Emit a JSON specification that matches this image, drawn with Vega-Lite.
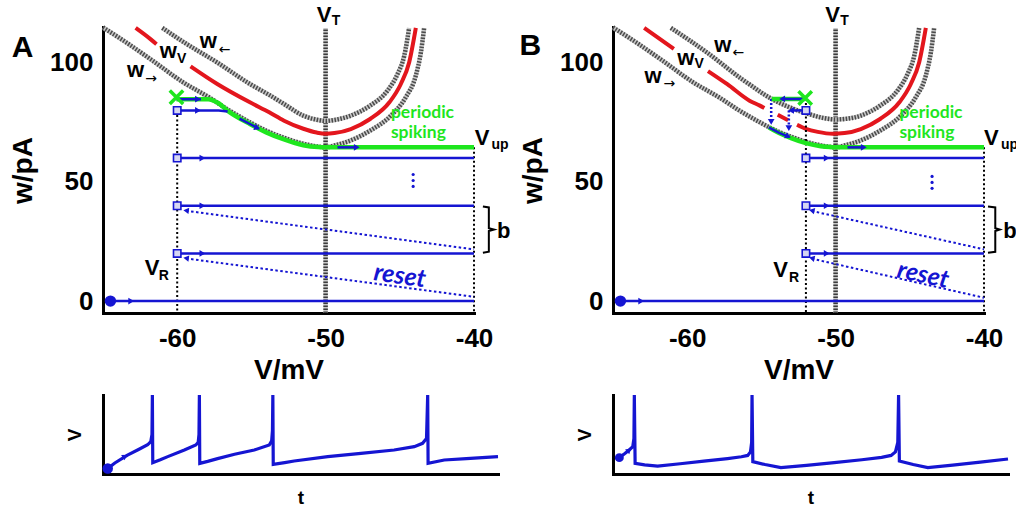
{
"$schema": "https://vega.github.io/schema/vega-lite/v6.json",
"background": "white",
"padding": {"left": 9, "top": 3, "right": 0, "bottom": 0},
"columns": 2,
"spacing": {"row": 82, "column": 115},
"bounds": "flush",
"config": {
  "view": {"stroke": null},
  "axis": {"grid": false, "ticks": false, "domainColor": "black", "domainWidth": 3, "domainCap": "square", "labelFlush": false, "labelFont": "Liberation Sans", "labelFontWeight": "bold", "labelFontSize": 26, "labelColor": "black", "titleFont": "Liberation Sans", "titleFontWeight": "bold", "titleFontSize": 28, "titleColor": "black"},
  "text": {"font": "Liberation Sans", "fontWeight": "bold", "color": "black"}
},
"datasets": {
  "cur": [
    {"p":"AB","c":"lo","s":0,"V":-65,"w":114.8},{"p":"AB","c":"lo","s":0,"V":-63.5,"w":108.8},{"p":"AB","c":"lo","s":0,"V":-61.8,"w":101.5},{"p":"AB","c":"lo","s":0,"V":-59.6,"w":91.8},{"p":"AB","c":"lo","s":0,"V":-57.8,"w":85.3},{"p":"AB","c":"lo","s":0,"V":-56.5,"w":80},{"p":"AB","c":"lo","s":0,"V":-55.1,"w":75},{"p":"AB","c":"lo","s":0,"V":-54,"w":71.5},{"p":"AB","c":"lo","s":0,"V":-52.8,"w":68.5},{"p":"AB","c":"lo","s":0,"V":-51.5,"w":66},{"p":"AB","c":"lo","s":0,"V":-50.5,"w":64.8},{"p":"AB","c":"lo","s":0,"V":-50,"w":64.5},{"p":"AB","c":"lo","s":0,"V":-49.4,"w":65.3},{"p":"AB","c":"lo","s":0,"V":-48.3,"w":67.4},{"p":"AB","c":"lo","s":0,"V":-47,"w":71.5},{"p":"AB","c":"lo","s":0,"V":-45.6,"w":77.8},{"p":"AB","c":"lo","s":0,"V":-44.6,"w":85.5},{"p":"AB","c":"lo","s":0,"V":-43.92,"w":94.6},{"p":"AB","c":"lo","s":0,"V":-43.58,"w":104.3},{"p":"AB","c":"lo","s":0,"V":-43.36,"w":114.6},
    {"p":"A","c":"hi","s":0,"V":-61,"w":114.6},{"p":"A","c":"hi","s":0,"V":-59.5,"w":108.4},{"p":"A","c":"hi","s":0,"V":-57.3,"w":100.1},{"p":"A","c":"hi","s":0,"V":-55.1,"w":91.1},{"p":"A","c":"hi","s":0,"V":-53.8,"w":86.5},{"p":"A","c":"hi","s":0,"V":-52.8,"w":82.7},{"p":"A","c":"hi","s":0,"V":-51.5,"w":77.8},{"p":"A","c":"hi","s":0,"V":-50.6,"w":76.1},{"p":"A","c":"hi","s":0,"V":-50,"w":75.6},{"p":"A","c":"hi","s":0,"V":-49.4,"w":76},{"p":"A","c":"hi","s":0,"V":-48.3,"w":77.8},{"p":"A","c":"hi","s":0,"V":-47,"w":82},{"p":"A","c":"hi","s":0,"V":-45.83,"w":88.3},{"p":"A","c":"hi","s":0,"V":-45.15,"w":95.3},{"p":"A","c":"hi","s":0,"V":-44.7,"w":102.9},{"p":"A","c":"hi","s":0,"V":-44.37,"w":114.6},
    {"p":"B","c":"hi","s":0,"V":-61.1,"w":114.6},{"p":"B","c":"hi","s":0,"V":-58.6,"w":104},{"p":"B","c":"hi","s":0,"V":-56.4,"w":93.5},{"p":"B","c":"hi","s":0,"V":-55.8,"w":90.9},{"p":"B","c":"hi","s":0,"V":-54.5,"w":85.5},{"p":"B","c":"hi","s":0,"V":-53.1,"w":81.3},{"p":"B","c":"hi","s":0,"V":-51.8,"w":78.5},{"p":"B","c":"hi","s":0,"V":-50.8,"w":76.8},{"p":"B","c":"hi","s":0,"V":-50,"w":76.2},{"p":"B","c":"hi","s":0,"V":-49.4,"w":76.4},{"p":"B","c":"hi","s":0,"V":-48.3,"w":77.8},{"p":"B","c":"hi","s":0,"V":-47,"w":82},{"p":"B","c":"hi","s":0,"V":-45.83,"w":88.3},{"p":"B","c":"hi","s":0,"V":-45.15,"w":95.3},{"p":"B","c":"hi","s":0,"V":-44.7,"w":102.9},{"p":"B","c":"hi","s":0,"V":-44.37,"w":114.6},
    {"p":"A","c":"red","s":1,"V":-62.8,"w":114.6},{"p":"A","c":"red","s":1,"V":-61.8,"w":109.9},{"p":"A","c":"red","s":1,"V":-61.4,"w":107.8},
    {"p":"A","c":"red","s":2,"V":-59.1,"w":98.5},{"p":"A","c":"red","s":2,"V":-57.3,"w":91.1},{"p":"A","c":"red","s":2,"V":-55.1,"w":83.4},{"p":"A","c":"red","s":2,"V":-53.8,"w":79.2},{"p":"A","c":"red","s":2,"V":-52.8,"w":75.7},{"p":"A","c":"red","s":2,"V":-51.5,"w":72.3},{"p":"A","c":"red","s":2,"V":-50.6,"w":70.7},{"p":"A","c":"red","s":2,"V":-50,"w":70.2},{"p":"A","c":"red","s":2,"V":-49.4,"w":70.5},{"p":"A","c":"red","s":2,"V":-48.3,"w":72.2},{"p":"A","c":"red","s":2,"V":-47,"w":76.4},{"p":"A","c":"red","s":2,"V":-45.7,"w":83.4},{"p":"A","c":"red","s":2,"V":-44.93,"w":91.1},{"p":"A","c":"red","s":2,"V":-44.37,"w":100.1},{"p":"A","c":"red","s":2,"V":-43.92,"w":114.6},
    {"p":"B","c":"red","s":1,"V":-62.9,"w":114.6},{"p":"B","c":"red","s":1,"V":-61.9,"w":110.2},{"p":"B","c":"red","s":1,"V":-60.9,"w":105.8},
    {"p":"B","c":"red","s":2,"V":-58.6,"w":96.5},{"p":"B","c":"red","s":2,"V":-57.3,"w":91},{"p":"B","c":"red","s":2,"V":-55.8,"w":84.1},{"p":"B","c":"red","s":2,"V":-55.1,"w":82},{"p":"B","c":"red","s":2,"V":-54.8,"w":81},
    {"p":"B","c":"red","s":3,"V":-53.9,"w":78.2},{"p":"B","c":"red","s":3,"V":-53.2,"w":75.9},
    {"p":"B","c":"red","s":4,"V":-52.6,"w":74},{"p":"B","c":"red","s":4,"V":-52,"w":72.3},{"p":"B","c":"red","s":4,"V":-51.2,"w":71},{"p":"B","c":"red","s":4,"V":-50.2,"w":70.2},{"p":"B","c":"red","s":4,"V":-49.4,"w":70.5},{"p":"B","c":"red","s":4,"V":-48.3,"w":72.2},{"p":"B","c":"red","s":4,"V":-47,"w":76.4},{"p":"B","c":"red","s":4,"V":-45.7,"w":83.4},{"p":"B","c":"red","s":4,"V":-44.93,"w":91.1},{"p":"B","c":"red","s":4,"V":-44.37,"w":100.1},{"p":"B","c":"red","s":4,"V":-43.92,"w":114.6}
  ],
  "vt": [{"p":"AB","V":-50,"w":-5},{"p":"AB","V":-50,"w":114.6}],
  "vd": [
    {"p":"A","id":1,"V":-60,"w":80},{"p":"A","id":1,"V":-60,"w":-5},
    {"p":"B","id":1,"V":-52,"w":85},{"p":"B","id":1,"V":-52,"w":-5},
    {"p":"AB","id":2,"V":-40,"w":64.5},{"p":"AB","id":2,"V":-40,"w":-5}
  ],
  "rs": [
    {"p":"A","id":1,"V":-40,"w":1.8},{"p":"A","id":1,"V":-59.4,"w":17.9},
    {"p":"A","id":2,"V":-40,"w":21.7},{"p":"A","id":2,"V":-59.4,"w":37.9},
    {"p":"B","id":1,"V":-40,"w":1.4},{"p":"B","id":1,"V":-51.6,"w":17.8},
    {"p":"B","id":2,"V":-40,"w":21.7},{"p":"B","id":2,"V":-51.6,"w":37.8}
  ],
  "dp": [
    {"p":"B","id":1,"V":-54.34,"w":84.8},{"p":"B","id":1,"V":-54.34,"w":75.5},
    {"p":"B","id":2,"V":-53.15,"w":80},{"p":"B","id":2,"V":-53.15,"w":73}
  ],
  "gr": [
    {"p":"A","id":1,"V":-60.05,"w":84.7},{"p":"A","id":1,"V":-57.9,"w":84.7},{"p":"A","id":1,"V":-57.3,"w":83.3},{"p":"A","id":1,"V":-56.5,"w":79.4},{"p":"A","id":1,"V":-55.1,"w":74.3},{"p":"A","id":1,"V":-54,"w":70.8},{"p":"A","id":1,"V":-52.8,"w":67.8},{"p":"A","id":1,"V":-51.5,"w":65.4},{"p":"A","id":1,"V":-50.5,"w":64.6},{"p":"A","id":1,"V":-50,"w":64.5},{"p":"A","id":1,"V":-40,"w":64.5},
    {"p":"B","id":1,"V":-54.3,"w":84.8},{"p":"B","id":1,"V":-52.05,"w":84.8},
    {"p":"B","id":2,"V":-54.5,"w":72.9},{"p":"B","id":2,"V":-54,"w":71.1},{"p":"B","id":2,"V":-53,"w":68.4},{"p":"B","id":2,"V":-52,"w":66.3},{"p":"B","id":2,"V":-51,"w":65},{"p":"B","id":2,"V":-50.3,"w":64.6},{"p":"B","id":2,"V":-50,"w":64.5},{"p":"B","id":2,"V":-40,"w":64.5}
  ],
  "bl": [
    {"p":"AB","id":0,"V":-64.5,"w":0},{"p":"AB","id":0,"V":-40,"w":0},
    {"p":"A","id":1,"V":-60,"w":20},{"p":"A","id":1,"V":-40,"w":20},
    {"p":"A","id":2,"V":-60,"w":40},{"p":"A","id":2,"V":-40,"w":40},
    {"p":"A","id":3,"V":-60,"w":60},{"p":"A","id":3,"V":-40,"w":60},
    {"p":"A","id":4,"V":-60,"w":80},{"p":"A","id":4,"V":-57.2,"w":80},{"p":"A","id":4,"V":-56.6,"w":79.5},
    {"p":"A","id":5,"V":-60.05,"w":84.7},{"p":"A","id":5,"V":-58.4,"w":84.7},
    {"p":"A","id":6,"V":-55.8,"w":76.6},{"p":"A","id":6,"V":-55.1,"w":74.3},{"p":"A","id":6,"V":-54.5,"w":72.4},
    {"p":"A","id":7,"V":-49.2,"w":64.5},{"p":"A","id":7,"V":-47.9,"w":64.5},
    {"p":"B","id":1,"V":-52,"w":20},{"p":"B","id":1,"V":-40,"w":20},
    {"p":"B","id":2,"V":-52,"w":40},{"p":"B","id":2,"V":-40,"w":40},
    {"p":"B","id":3,"V":-52,"w":60},{"p":"B","id":3,"V":-40,"w":60},
    {"p":"B","id":4,"V":-52,"w":80},{"p":"B","id":4,"V":-52.95,"w":80},
    {"p":"B","id":5,"V":-52.2,"w":84.8},{"p":"B","id":5,"V":-53.5,"w":84.8},
    {"p":"B","id":6,"V":-54.5,"w":72.9},{"p":"B","id":6,"V":-53.8,"w":70.6},{"p":"B","id":6,"V":-53.1,"w":68.8},
    {"p":"B","id":7,"V":-49.2,"w":64.5},{"p":"B","id":7,"V":-48.1,"w":64.5}
  ],
  "ar": [
    {"p":"A","V":-58.6,"w":84.7},{"p":"A","V":-58.6,"w":80},{"p":"A","V":-58.3,"w":60},{"p":"A","V":-58.3,"w":40},{"p":"A","V":-58.3,"w":20},{"p":"AB","V":-63.1,"w":0},{"p":"A","V":-47.9,"w":64.5},
    {"p":"B","V":-50.6,"w":60},{"p":"B","V":-50.6,"w":40},{"p":"B","V":-50.6,"w":20},{"p":"B","V":-48.1,"w":64.5}
  ],
  "al": [{"p":"B","V":-53.6,"w":84.8},{"p":"B","V":-53.0,"w":80}],
  "ad": [{"p":"B","V":-54.34,"w":75.2},{"p":"B","V":-53.15,"w":72.6}],
  "arr": [{"p":"A","V":-59.4,"w":18},{"p":"A","V":-59.4,"w":38},{"p":"B","V":-51.6,"w":18},{"p":"B","V":-51.6,"w":38}],
  "ac": [{"p":"A","V":-54.6,"w":72.6},{"p":"B","V":-53.2,"w":69.1}],
  "sq": [
    {"p":"A","V":-60,"w":20},{"p":"A","V":-60,"w":40},{"p":"A","V":-60,"w":60},{"p":"A","V":-60,"w":80},
    {"p":"B","V":-52,"w":20},{"p":"B","V":-52,"w":40},{"p":"B","V":-52,"w":60},{"p":"B","V":-52,"w":80}
  ],
  "xm": [{"p":"A","V":-60.05,"w":85.5},{"p":"B","V":-52.05,"w":85.2}],
  "sd": [{"p":"AB","V":-64.5,"w":0}],
  "vdt": [
    {"p":"A","V":-44.1,"w":53.1},{"p":"A","V":-44.1,"w":50.6},{"p":"A","V":-44.1,"w":48.1},
    {"p":"B","V":-43.5,"w":52.3},{"p":"B","V":-43.5,"w":49.8},{"p":"B","V":-43.5,"w":47.3}
  ],
  "br": [
    {"p":"A","i":1,"V":-39.4,"w":39.7},{"p":"A","i":2,"V":-39.0,"w":39.3},{"p":"A","i":3,"V":-39.0,"w":30.6},{"p":"A","i":4,"V":-38.65,"w":30},{"p":"A","i":5,"V":-39.0,"w":29.4},{"p":"A","i":6,"V":-39.0,"w":20.7},{"p":"A","i":7,"V":-39.4,"w":20.3},
    {"p":"B","i":1,"V":-39.73,"w":39.7},{"p":"B","i":2,"V":-39.24,"w":39.3},{"p":"B","i":3,"V":-39.24,"w":30.6},{"p":"B","i":4,"V":-38.94,"w":30},{"p":"B","i":5,"V":-39.24,"w":29.4},{"p":"B","i":6,"V":-39.24,"w":20.7},{"p":"B","i":7,"V":-39.73,"w":20.3}
  ],
  "tb": [
    {"p":"A","txt":"V","V":-50.1,"w":117.1},{"p":"A","txt":"V","V":-39.46,"w":65.3},{"p":"A","txt":"V","V":-61.7,"w":10.9},{"p":"A","txt":"w","V":-57.9,"w":106.2},{"p":"A","txt":"w","V":-60.6,"w":102},{"p":"A","txt":"w","V":-62.8,"w":94},{"p":"A","txt":"b","V":-38.0,"w":26.5},
    {"p":"B","txt":"V","V":-50.2,"w":117.1},{"p":"B","txt":"V","V":-39.5,"w":65.3},{"p":"B","txt":"V","V":-53.7,"w":10.1},{"p":"B","txt":"w","V":-57.6,"w":104.5},{"p":"B","txt":"w","V":-60.1,"w":99.1},{"p":"B","txt":"w","V":-62.3,"w":91.5},{"p":"B","txt":"b","V":-38.25,"w":26.5}
  ],
  "ts": [
    {"p":"A","txt":"T","V":-49.3,"w":115.9},{"p":"A","txt":"up","V":-38.25,"w":63.8},{"p":"A","txt":"R","V":-60.9,"w":8.8},{"p":"A","txt":"V","V":-59.7,"w":99.9},
    {"p":"B","txt":"T","V":-49.4,"w":115.9},{"p":"B","txt":"up","V":-38.28,"w":63.8},{"p":"B","txt":"R","V":-52.8,"w":8.0},{"p":"B","txt":"V","V":-59.2,"w":97.8}
  ],
  "ta": [
    {"p":"A","txt":"←","V":-56.8,"w":103.6},{"p":"A","txt":"→","V":-61.75,"w":91.5},
    {"p":"B","txt":"←","V":-56.55,"w":102.6},{"p":"B","txt":"→","V":-61.2,"w":89.4}
  ],
  "tp": [{"p":"A","txt":"A","V":-71.15,"w":102.4},{"p":"B","txt":"B","V":-71.3,"w":103.3}],
  "tg": [
    {"p":"A","txt":"periodic","V":-45.6,"w":76.9},{"p":"A","txt":"spiking","V":-45.6,"w":68.3},
    {"p":"B","txt":"periodic","V":-45.7,"w":76.9},{"p":"B","txt":"spiking","V":-45.7,"w":68.3}
  ],
  "tr": [{"p":"A","txt":"reset","V":-45.0,"w":10.6},{"p":"B","txt":"reset","V":-44.1,"w":11}],
  "trace": [
    {"p":"A","t":1.2,"v":7},{"p":"A","t":3,"v":14},{"p":"A","t":6.2,"v":24},{"p":"A","t":9,"v":31},{"p":"A","t":11.3,"v":37},{"p":"A","t":12.1,"v":41},{"p":"A","t":12.4,"v":50},{"p":"A","t":12.5,"v":100},{"p":"A","t":12.6,"v":14.3},{"p":"A","t":14.5,"v":18},{"p":"A","t":16.4,"v":22},{"p":"A","t":20.6,"v":30.4},{"p":"A","t":23.5,"v":36.7},{"p":"A","t":24.1,"v":40},{"p":"A","t":24.3,"v":50},{"p":"A","t":24.4,"v":100},{"p":"A","t":24.5,"v":13.5},{"p":"A","t":26.5,"v":16},{"p":"A","t":29,"v":19.5},{"p":"A","t":33.3,"v":25},{"p":"A","t":38.3,"v":30.4},{"p":"A","t":42.1,"v":36.7},{"p":"A","t":42.7,"v":42},{"p":"A","t":42.9,"v":55},{"p":"A","t":43,"v":100},{"p":"A","t":43.1,"v":12.2},{"p":"A","t":46,"v":14.5},{"p":"A","t":48.4,"v":16.5},{"p":"A","t":56.9,"v":21.9},{"p":"A","t":65.3,"v":26.2},{"p":"A","t":73.7,"v":30.4},{"p":"A","t":78.8,"v":34.6},{"p":"A","t":80.9,"v":38.8},{"p":"A","t":81.9,"v":45},{"p":"A","t":82.2,"v":100},{"p":"A","t":82.3,"v":13.5},{"p":"A","t":86.4,"v":17.7},{"p":"A","t":92,"v":19.5},{"p":"A","t":100,"v":21.9},
    {"p":"B","t":1.6,"v":20.7},{"p":"B","t":3,"v":26},{"p":"B","t":4.1,"v":30.4},{"p":"B","t":5,"v":34.6},{"p":"B","t":5.3,"v":45},{"p":"B","t":5.4,"v":100},{"p":"B","t":5.6,"v":13.5},{"p":"B","t":8,"v":11.5},{"p":"B","t":11.3,"v":10.1},{"p":"B","t":17,"v":13},{"p":"B","t":23,"v":16.2},{"p":"B","t":29,"v":19.5},{"p":"B","t":32.5,"v":21.8},{"p":"B","t":34.1,"v":23.5},{"p":"B","t":34.8,"v":28},{"p":"B","t":35.1,"v":40},{"p":"B","t":35.2,"v":100},{"p":"B","t":35.4,"v":15.6},{"p":"B","t":38.5,"v":12},{"p":"B","t":42.5,"v":8},{"p":"B","t":49,"v":11},{"p":"B","t":56,"v":14.5},{"p":"B","t":63,"v":18},{"p":"B","t":68,"v":21},{"p":"B","t":70.4,"v":23.5},{"p":"B","t":71.5,"v":28},{"p":"B","t":72.1,"v":40},{"p":"B","t":72.3,"v":100},{"p":"B","t":72.5,"v":16.5},{"p":"B","t":76,"v":12},{"p":"B","t":79.7,"v":8},{"p":"B","t":86,"v":11.3},{"p":"B","t":93,"v":15},{"p":"B","t":100,"v":19}
  ],
  "tdot": [{"p":"A","t":1.2,"v":7},{"p":"B","t":1.6,"v":20.7}],
  "tarr": [{"p":"A","t":5.6,"v":22.5},{"p":"B","t":4.1,"v":30.4}]
},
"concat": [
  {
    "width": 371, "height": 286,
    "encoding": {
      "x": {"field": "V", "type": "quantitative", "scale": {"domain": [-65, -40], "nice": false, "zero": false}, "axis": {"values": [-60, -50, -40], "labelExpr": "'' + datum.value", "title": "V/mV", "labelPadding": 12, "titlePadding": 5}},
      "y": {"field": "w", "type": "quantitative", "scale": {"domain": [-5, 115], "nice": false, "zero": false}, "axis": {"values": [0, 50, 100], "labelExpr": "'' + datum.value", "title": "w/pA", "labelPadding": 10, "titlePadding": 12}}
    },
    "layer": [
      {"data": {"name": "vt"}, "transform": [{"filter": "datum.p=='A' || datum.p=='AB'"}], "mark": {"type": "line", "color": "#c8c8c8", "strokeWidth": 4.5}, "encoding": {}},
      {"data": {"name": "vt"}, "transform": [{"filter": "datum.p=='A' || datum.p=='AB'"}], "mark": {"type": "line", "color": "#3c3c3c", "strokeWidth": 4.5, "strokeDash": [1.5, 1.5]}, "encoding": {}},
      {"data": {"name": "cur"}, "transform": [{"filter": "(datum.p=='A' || datum.p=='AB') && datum.c!='red'"}], "mark": {"type": "line", "color": "#c8c8c8", "strokeWidth": 4.5, "interpolate": "monotone"}, "encoding": {"detail": {"field": "c"}}},
      {"data": {"name": "cur"}, "transform": [{"filter": "(datum.p=='A' || datum.p=='AB') && datum.c!='red'"}], "mark": {"type": "line", "color": "#4a4a4a", "strokeWidth": 4.5, "strokeDash": [1.5, 1.5], "interpolate": "monotone"}, "encoding": {"detail": {"field": "c"}}},
      {"data": {"name": "cur"}, "transform": [{"filter": "(datum.p=='A' || datum.p=='AB') && datum.c=='red'"}], "mark": {"type": "line", "color": "#e3161d", "strokeWidth": 4, "interpolate": "monotone"}, "encoding": {"detail": {"field": "s"}}},
      {"data": {"name": "vd"}, "transform": [{"filter": "datum.p=='A' || datum.p=='AB'"}], "mark": {"type": "line", "color": "black", "strokeWidth": 2, "strokeDash": [2, 2.5]}, "encoding": {"detail": {"field": "id"}}},
      {"data": {"name": "rs"}, "transform": [{"filter": "datum.p=='A' || datum.p=='AB'"}], "mark": {"type": "line", "color": "#1515d2", "strokeWidth": 2, "strokeDash": [2.5, 2.5]}, "encoding": {"detail": {"field": "id"}}},
      {"data": {"name": "gr"}, "transform": [{"filter": "datum.p=='A' || datum.p=='AB'"}], "mark": {"type": "line", "color": "#1ee61e", "strokeWidth": 4.5, "interpolate": "monotone"}, "encoding": {"detail": {"field": "id"}}},
      {"data": {"name": "bl"}, "transform": [{"filter": "datum.p=='A' || datum.p=='AB'"}], "mark": {"type": "line", "color": "#1515d2", "strokeWidth": 2.5}, "encoding": {"detail": {"field": "id"}}},
      {"data": {"name": "ar"}, "transform": [{"filter": "datum.p=='A' || datum.p=='AB'"}], "mark": {"type": "point", "shape": "triangle-right", "filled": true, "color": "#1515d2", "size": 45, "opacity": 1}},
      {"data": {"name": "arr"}, "transform": [{"filter": "datum.p=='A' || datum.p=='AB'"}], "mark": {"type": "point", "shape": "triangle-left", "angle": 7.5, "filled": true, "color": "#1515d2", "size": 40, "opacity": 1}},
      {"data": {"name": "ac"}, "transform": [{"filter": "datum.p=='A' || datum.p=='AB'"}], "mark": {"type": "point", "shape": "triangle-right", "angle": 24, "filled": true, "color": "#1515d2", "size": 45, "opacity": 1}},
      {"data": {"name": "sq"}, "transform": [{"filter": "datum.p=='A' || datum.p=='AB'"}], "mark": {"type": "point", "shape": "square", "filled": true, "fill": "#d6d6f2", "stroke": "#1515d2", "strokeWidth": 1.6, "size": 55, "opacity": 1}},
      {"data": {"name": "xm"}, "transform": [{"filter": "datum.p=='A' || datum.p=='AB'"}], "mark": {"type": "point", "shape": "M-1,-1L1,1M-1,1L1,-1", "filled": false, "stroke": "#1ee61e", "strokeWidth": 3.5, "size": 180, "opacity": 1}},
      {"data": {"name": "sd"}, "transform": [{"filter": "datum.p=='A' || datum.p=='AB'"}], "mark": {"type": "point", "shape": "circle", "filled": true, "color": "#1515d2", "size": 130, "opacity": 1}},
      {"data": {"name": "vdt"}, "transform": [{"filter": "datum.p=='A' || datum.p=='AB'"}], "mark": {"type": "point", "shape": "circle", "filled": true, "color": "#1515d2", "size": 10, "opacity": 1}},
      {"data": {"name": "br"}, "transform": [{"filter": "datum.p=='A' || datum.p=='AB'"}], "mark": {"type": "line", "color": "black", "strokeWidth": 2}, "encoding": {"order": {"field": "i"}}},
      {"data": {"name": "tb"}, "transform": [{"filter": "datum.p=='A' || datum.p=='AB'"}], "mark": {"type": "text", "fontSize": 22, "align": "center", "baseline": "alphabetic"}, "encoding": {"text": {"field": "txt"}}},
      {"data": {"name": "ts"}, "transform": [{"filter": "datum.p=='A' || datum.p=='AB'"}], "mark": {"type": "text", "fontSize": 14, "align": "center", "baseline": "alphabetic"}, "encoding": {"text": {"field": "txt"}}},
      {"data": {"name": "ta"}, "transform": [{"filter": "datum.p=='A' || datum.p=='AB'"}], "mark": {"type": "text", "font": "DejaVu Sans", "fontWeight": "normal", "fontSize": 14, "align": "center", "baseline": "alphabetic"}, "encoding": {"text": {"field": "txt"}}},
      {"data": {"name": "tp"}, "transform": [{"filter": "datum.p=='A' || datum.p=='AB'"}], "mark": {"type": "text", "fontSize": 30, "align": "left", "baseline": "alphabetic"}, "encoding": {"text": {"field": "txt"}}},
      {"data": {"name": "tg"}, "transform": [{"filter": "datum.p=='A' || datum.p=='AB'"}], "mark": {"type": "text", "font": "Lato", "fontSize": 17.5, "align": "left", "baseline": "alphabetic", "color": "#1ee61e"}, "encoding": {"text": {"field": "txt"}}},
      {"data": {"name": "tr"}, "transform": [{"filter": "datum.p=='A' || datum.p=='AB'"}], "mark": {"type": "text", "font": "Lato", "fontSize": 25, "fontStyle": "italic", "align": "center", "baseline": "middle", "angle": 8, "color": "#1515d2"}, "encoding": {"text": {"field": "txt"}}}
    ]
  },
  {
    "width": 371, "height": 286,
    "encoding": {
      "x": {"field": "V", "type": "quantitative", "scale": {"domain": [-65, -40], "nice": false, "zero": false}, "axis": {"values": [-60, -50, -40], "labelExpr": "'' + datum.value", "title": "V/mV", "labelPadding": 12, "titlePadding": 5}},
      "y": {"field": "w", "type": "quantitative", "scale": {"domain": [-5, 115], "nice": false, "zero": false}, "axis": {"values": [0, 50, 100], "labelExpr": "'' + datum.value", "title": "w/pA", "labelPadding": 10, "titlePadding": 12}}
    },
    "layer": [
      {"data": {"name": "vt"}, "transform": [{"filter": "datum.p=='B' || datum.p=='AB'"}], "mark": {"type": "line", "color": "#c8c8c8", "strokeWidth": 4.5}, "encoding": {}},
      {"data": {"name": "vt"}, "transform": [{"filter": "datum.p=='B' || datum.p=='AB'"}], "mark": {"type": "line", "color": "#3c3c3c", "strokeWidth": 4.5, "strokeDash": [1.5, 1.5]}, "encoding": {}},
      {"data": {"name": "cur"}, "transform": [{"filter": "(datum.p=='B' || datum.p=='AB') && datum.c!='red'"}], "mark": {"type": "line", "color": "#c8c8c8", "strokeWidth": 4.5, "interpolate": "monotone"}, "encoding": {"detail": {"field": "c"}}},
      {"data": {"name": "cur"}, "transform": [{"filter": "(datum.p=='B' || datum.p=='AB') && datum.c!='red'"}], "mark": {"type": "line", "color": "#4a4a4a", "strokeWidth": 4.5, "strokeDash": [1.5, 1.5], "interpolate": "monotone"}, "encoding": {"detail": {"field": "c"}}},
      {"data": {"name": "cur"}, "transform": [{"filter": "(datum.p=='B' || datum.p=='AB') && datum.c=='red'"}], "mark": {"type": "line", "color": "#e3161d", "strokeWidth": 4, "interpolate": "monotone"}, "encoding": {"detail": {"field": "s"}}},
      {"data": {"name": "vd"}, "transform": [{"filter": "datum.p=='B' || datum.p=='AB'"}], "mark": {"type": "line", "color": "black", "strokeWidth": 2, "strokeDash": [2, 2.5]}, "encoding": {"detail": {"field": "id"}}},
      {"data": {"name": "rs"}, "transform": [{"filter": "datum.p=='B' || datum.p=='AB'"}], "mark": {"type": "line", "color": "#1515d2", "strokeWidth": 2, "strokeDash": [2.5, 2.5]}, "encoding": {"detail": {"field": "id"}}},
      {"data": {"name": "dp"}, "transform": [{"filter": "datum.p=='B' || datum.p=='AB'"}], "mark": {"type": "line", "color": "#1515d2", "strokeWidth": 2.5, "strokeDash": [2, 2]}, "encoding": {"detail": {"field": "id"}}},
      {"data": {"name": "gr"}, "transform": [{"filter": "datum.p=='B' || datum.p=='AB'"}], "mark": {"type": "line", "color": "#1ee61e", "strokeWidth": 4.5, "interpolate": "monotone"}, "encoding": {"detail": {"field": "id"}}},
      {"data": {"name": "bl"}, "transform": [{"filter": "datum.p=='B' || datum.p=='AB'"}], "mark": {"type": "line", "color": "#1515d2", "strokeWidth": 2.5}, "encoding": {"detail": {"field": "id"}}},
      {"data": {"name": "ar"}, "transform": [{"filter": "datum.p=='B' || datum.p=='AB'"}], "mark": {"type": "point", "shape": "triangle-right", "filled": true, "color": "#1515d2", "size": 45, "opacity": 1}},
      {"data": {"name": "al"}, "transform": [{"filter": "datum.p=='B' || datum.p=='AB'"}], "mark": {"type": "point", "shape": "triangle-left", "filled": true, "color": "#1515d2", "size": 45, "opacity": 1}},
      {"data": {"name": "ad"}, "transform": [{"filter": "datum.p=='B' || datum.p=='AB'"}], "mark": {"type": "point", "shape": "triangle-down", "filled": true, "color": "#1515d2", "size": 45, "opacity": 1}},
      {"data": {"name": "arr"}, "transform": [{"filter": "datum.p=='B' || datum.p=='AB'"}], "mark": {"type": "point", "shape": "triangle-left", "angle": 13, "filled": true, "color": "#1515d2", "size": 40, "opacity": 1}},
      {"data": {"name": "ac"}, "transform": [{"filter": "datum.p=='B' || datum.p=='AB'"}], "mark": {"type": "point", "shape": "triangle-right", "angle": 24, "filled": true, "color": "#1515d2", "size": 45, "opacity": 1}},
      {"data": {"name": "sq"}, "transform": [{"filter": "datum.p=='B' || datum.p=='AB'"}], "mark": {"type": "point", "shape": "square", "filled": true, "fill": "#d6d6f2", "stroke": "#1515d2", "strokeWidth": 1.6, "size": 55, "opacity": 1}},
      {"data": {"name": "xm"}, "transform": [{"filter": "datum.p=='B' || datum.p=='AB'"}], "mark": {"type": "point", "shape": "M-1,-1L1,1M-1,1L1,-1", "filled": false, "stroke": "#1ee61e", "strokeWidth": 3.5, "size": 180, "opacity": 1}},
      {"data": {"name": "sd"}, "transform": [{"filter": "datum.p=='B' || datum.p=='AB'"}], "mark": {"type": "point", "shape": "circle", "filled": true, "color": "#1515d2", "size": 130, "opacity": 1}},
      {"data": {"name": "vdt"}, "transform": [{"filter": "datum.p=='B' || datum.p=='AB'"}], "mark": {"type": "point", "shape": "circle", "filled": true, "color": "#1515d2", "size": 10, "opacity": 1}},
      {"data": {"name": "br"}, "transform": [{"filter": "datum.p=='B' || datum.p=='AB'"}], "mark": {"type": "line", "color": "black", "strokeWidth": 2}, "encoding": {"order": {"field": "i"}}},
      {"data": {"name": "tb"}, "transform": [{"filter": "datum.p=='B' || datum.p=='AB'"}], "mark": {"type": "text", "fontSize": 22, "align": "center", "baseline": "alphabetic"}, "encoding": {"text": {"field": "txt"}}},
      {"data": {"name": "ts"}, "transform": [{"filter": "datum.p=='B' || datum.p=='AB'"}], "mark": {"type": "text", "fontSize": 14, "align": "center", "baseline": "alphabetic"}, "encoding": {"text": {"field": "txt"}}},
      {"data": {"name": "ta"}, "transform": [{"filter": "datum.p=='B' || datum.p=='AB'"}], "mark": {"type": "text", "font": "DejaVu Sans", "fontWeight": "normal", "fontSize": 14, "align": "center", "baseline": "alphabetic"}, "encoding": {"text": {"field": "txt"}}},
      {"data": {"name": "tp"}, "transform": [{"filter": "datum.p=='B' || datum.p=='AB'"}], "mark": {"type": "text", "fontSize": 30, "align": "left", "baseline": "alphabetic"}, "encoding": {"text": {"field": "txt"}}},
      {"data": {"name": "tg"}, "transform": [{"filter": "datum.p=='B' || datum.p=='AB'"}], "mark": {"type": "text", "font": "Lato", "fontSize": 17.5, "align": "left", "baseline": "alphabetic", "color": "#1ee61e"}, "encoding": {"text": {"field": "txt"}}},
      {"data": {"name": "tr"}, "transform": [{"filter": "datum.p=='B' || datum.p=='AB'"}], "mark": {"type": "text", "font": "Lato", "fontSize": 25, "fontStyle": "italic", "align": "center", "baseline": "middle", "angle": 12, "color": "#1515d2"}, "encoding": {"text": {"field": "txt"}}}
    ]
  },
  {
    "width": 395, "height": 79,
    "encoding": {
      "x": {"field": "t", "type": "quantitative", "scale": {"domain": [0, 100], "nice": false, "zero": false}, "axis": {"title": "t", "labels": false, "titlePadding": 14, "titleFontSize": 19}},
      "y": {"field": "v", "type": "quantitative", "scale": {"domain": [0, 100], "nice": false, "zero": false}, "axis": {"title": "V", "labels": false, "titlePadding": 19, "titleFontSize": 19}}
    },
    "layer": [
      {"data": {"name": "trace"}, "transform": [{"filter": "datum.p=='A'"}], "mark": {"type": "line", "color": "#1515d2", "strokeWidth": 3.2}, "encoding": {}},
      {"data": {"name": "tdot"}, "transform": [{"filter": "datum.p=='A'"}], "mark": {"type": "point", "shape": "circle", "filled": true, "color": "#1515d2", "size": 110, "opacity": 1}},
      {"data": {"name": "tarr"}, "transform": [{"filter": "datum.p=='A'"}], "mark": {"type": "point", "shape": "triangle-right", "angle": -32, "filled": true, "color": "#1515d2", "size": 40, "opacity": 1}}
    ]
  },
  {
    "width": 395, "height": 79,
    "encoding": {
      "x": {"field": "t", "type": "quantitative", "scale": {"domain": [0, 100], "nice": false, "zero": false}, "axis": {"title": "t", "labels": false, "titlePadding": 14, "titleFontSize": 19}},
      "y": {"field": "v", "type": "quantitative", "scale": {"domain": [0, 100], "nice": false, "zero": false}, "axis": {"title": "V", "labels": false, "titlePadding": 19, "titleFontSize": 19}}
    },
    "layer": [
      {"data": {"name": "trace"}, "transform": [{"filter": "datum.p=='B'"}], "mark": {"type": "line", "color": "#1515d2", "strokeWidth": 3.2}, "encoding": {}},
      {"data": {"name": "tdot"}, "transform": [{"filter": "datum.p=='B'"}], "mark": {"type": "point", "shape": "circle", "filled": true, "color": "#1515d2", "size": 80, "opacity": 1}},
      {"data": {"name": "tarr"}, "transform": [{"filter": "datum.p=='B'"}], "mark": {"type": "point", "shape": "triangle-right", "angle": -41, "filled": true, "color": "#1515d2", "size": 40, "opacity": 1}}
    ]
  }
]
}
